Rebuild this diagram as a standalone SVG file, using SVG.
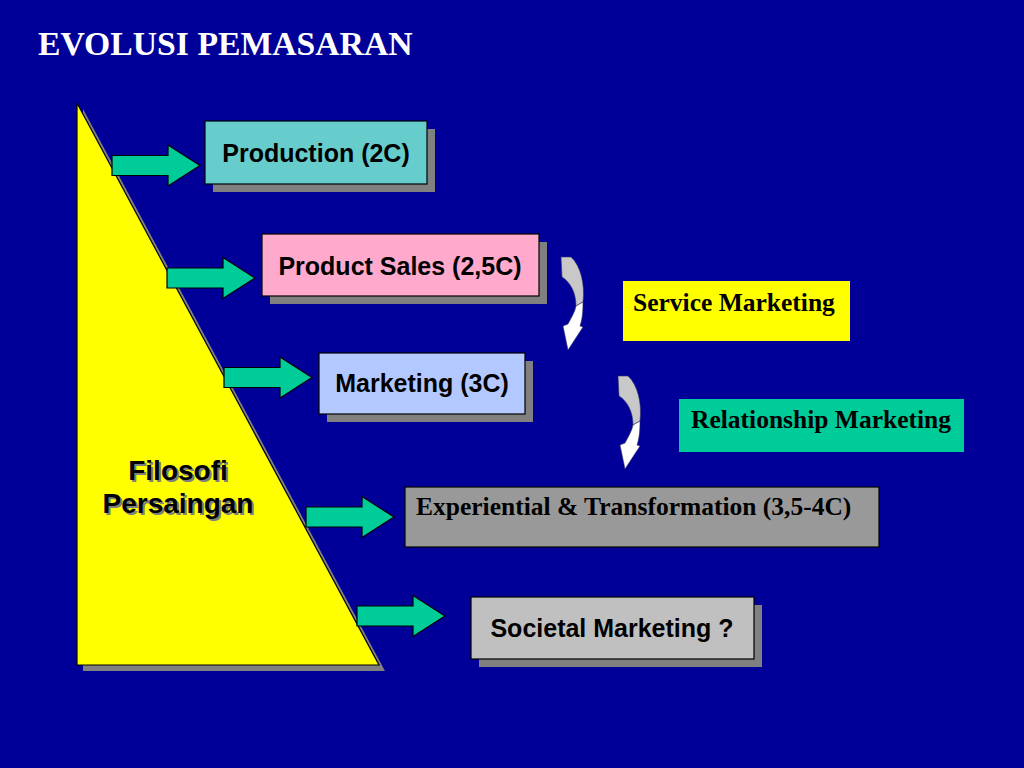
<svg xmlns="http://www.w3.org/2000/svg" width="1024" height="768" viewBox="0 0 1024 768">
<defs>
<style>
.box{stroke:#000;stroke-width:1.2}
.shadow{fill:#808080}
.sans{font-family:"Liberation Sans",Arial,sans-serif;font-weight:bold;fill:#000}
.serif{font-family:"Liberation Serif","Times New Roman",serif;font-weight:bold;fill:#000}
.arrow{fill:#00cc99;stroke:#000;stroke-width:1.2;stroke-linejoin:miter}
</style>
<path id="garrow" d="M0,-10 L56,-10 L56,-20.5 L88,0 L56,20.5 L56,10 L0,10 Z"/>
<g id="carrow">
<path d="M561,257 L571,257 C581,266 585,285 583,302 L576,306 C576,292 570,282 562,277 Z" fill="#c8c8c8" stroke="#333366" stroke-width="0.6"/>
<path d="M576,306 L583,302 C583,313 582,320 580,326 L583,327 L568,350 L563,326 L568,324 C571,318 575,312 576,306 Z" fill="#ffffff" stroke="#333366" stroke-width="0.6"/>
</g>
</defs>
<rect width="1024" height="768" fill="#000099"/>
<text x="38" y="55" font-family="Liberation Serif,'Times New Roman',serif" font-weight="bold" font-size="33.7" fill="#fff">EVOLUSI PEMASARAN</text>

<g id="triangle">
<polygon points="83,109 385,671 83,671" class="shadow"/>
<polygon points="77,103 379,665 77,665" fill="#ffff00" stroke="#000" stroke-width="1.2"/>
<text x="178" y="480" text-anchor="middle" font-family="Liberation Sans,Arial,sans-serif" font-weight="bold" font-size="28" fill="#808080" dx="2" dy="2">Filosofi</text>
<text x="178" y="513" text-anchor="middle" font-family="Liberation Sans,Arial,sans-serif" font-weight="bold" font-size="28" fill="#808080" dx="2" dy="2">Persaingan</text>
<text x="178" y="480" text-anchor="middle" class="sans" font-size="28">Filosofi</text>
<text x="178" y="513" text-anchor="middle" class="sans" font-size="28">Persaingan</text>
</g>

<g id="production">
<rect x="213" y="129" width="222" height="63" class="shadow"/>
<rect x="205" y="121" width="222" height="63" fill="#66cccc" class="box"/>
<text x="316" y="162" text-anchor="middle" class="sans" font-size="25">Production (2C)</text>
</g>
<g id="productsales">
<rect x="270" y="242" width="277" height="62" class="shadow"/>
<rect x="262" y="234" width="277" height="62" fill="#ffaacc" class="box"/>
<text x="400" y="275" text-anchor="middle" class="sans" font-size="25">Product Sales (2,5C)</text>
</g>
<g id="marketing">
<rect x="327" y="361" width="206" height="61" class="shadow"/>
<rect x="319" y="353" width="206" height="61" fill="#b3c8ff" class="box"/>
<text x="422" y="392" text-anchor="middle" class="sans" font-size="25">Marketing (3C)</text>
</g>
<g id="service">
<rect x="623" y="281" width="227" height="60" fill="#ffff00"/>
<text x="633" y="311" class="serif" font-size="25.5">Service Marketing</text>
</g>
<g id="relationship">
<rect x="679" y="399" width="285" height="53" fill="#00cc99"/>
<text x="691" y="428" class="serif" font-size="25.5">Relationship Marketing</text>
</g>
<g id="experiential">
<rect x="405" y="487" width="474" height="60" fill="#999999" class="box"/>
<text x="416" y="515" class="serif" font-size="25.5">Experiential &amp; Transformation (3,5-4C)</text>
</g>
<g id="societal">
<rect x="479" y="605" width="283" height="62" class="shadow"/>
<rect x="471" y="597" width="283" height="62" fill="#c0c0c0" class="box"/>
<text x="612" y="637" text-anchor="middle" class="sans" font-size="25">Societal Marketing ?</text>
</g>

<g id="connectors">
<use href="#garrow" class="arrow" transform="translate(112,165.5)"/>
<use href="#garrow" class="arrow" transform="translate(167,278)"/>
<use href="#garrow" class="arrow" transform="translate(224,377.5)"/>
<use href="#garrow" class="arrow" transform="translate(306,517)"/>
<use href="#garrow" class="arrow" transform="translate(357,616)"/>
<use href="#carrow"/>
<use href="#carrow" transform="translate(57,119)"/>
</g>
</svg>
